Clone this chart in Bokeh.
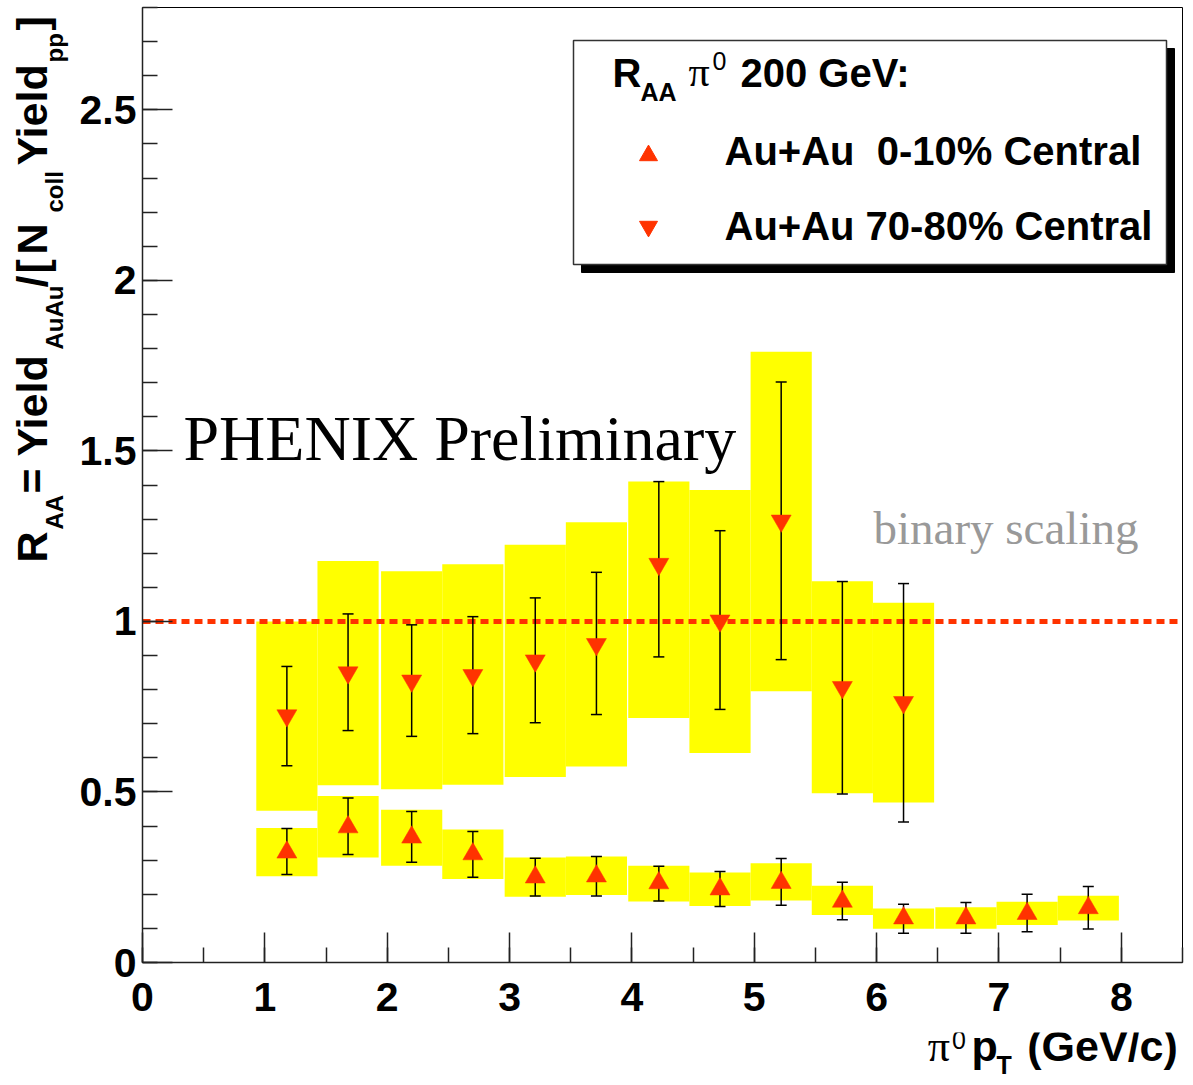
import math
from bokeh.plotting import figure
from bokeh.layouts import row, column
from bokeh.models import Label, SingleIntervalTicker
from bokeh.embed import file_html
from bokeh.resources import INLINE

# ---------------- data ----------------
X_MIN, X_MAX = 0.0, 8.5
Y_MIN, Y_MAX = 0.0, 2.8

# Au+Au 0-10% central (up triangles)
pt_central = [1.18, 1.68, 2.20, 2.70, 3.21, 3.71, 4.22, 4.72, 5.22, 5.72, 6.22, 6.73, 7.23, 7.73]
raa_central = [0.323, 0.397, 0.367, 0.318, 0.250, 0.253, 0.233, 0.215, 0.234, 0.179, 0.130, 0.130, 0.143, 0.160]
err_hi_central = [0.393, 0.482, 0.443, 0.384, 0.306, 0.311, 0.282, 0.267, 0.305, 0.235, 0.171, 0.176, 0.200, 0.223]
err_lo_central = [0.258, 0.317, 0.294, 0.250, 0.195, 0.195, 0.180, 0.164, 0.168, 0.125, 0.086, 0.086, 0.090, 0.098]
sys_hi_central = [0.394, 0.488, 0.448, 0.390, 0.308, 0.311, 0.284, 0.264, 0.291, 0.225, 0.158, 0.162, 0.178, 0.196]
sys_lo_central = [0.253, 0.308, 0.284, 0.245, 0.193, 0.198, 0.179, 0.166, 0.182, 0.139, 0.099, 0.099, 0.110, 0.123]

# Au+Au 70-80% peripheral (down triangles)
pt_periph = [1.18, 1.68, 2.20, 2.70, 3.21, 3.71, 4.22, 4.72, 5.22, 5.72, 6.22]
raa_periph = [0.724, 0.850, 0.826, 0.842, 0.885, 0.933, 1.168, 1.002, 1.295, 0.807, 0.763]
err_hi_periph = [0.868, 1.022, 0.990, 1.014, 1.069, 1.144, 1.410, 1.266, 1.702, 1.117, 1.111]
err_lo_periph = [0.577, 0.680, 0.663, 0.671, 0.703, 0.727, 0.896, 0.742, 0.888, 0.494, 0.412]
sys_hi_periph = [1.000, 1.177, 1.147, 1.168, 1.225, 1.291, 1.410, 1.385, 1.791, 1.118, 1.055]
sys_lo_periph = [0.445, 0.520, 0.508, 0.521, 0.544, 0.575, 0.717, 0.614, 0.795, 0.496, 0.469]

bin_half_width = 0.25
binary_scaling = 1.0

ytick_values = [0, 0.5, 1, 1.5, 2, 2.5]
ytick_labels = ["0", "0.5", "1", "1.5", "2", "2.5"]

legend_title = "200 GeV:"
legend_central = "Au+Au\u00a0\u00a00-10% Central"
legend_periph = "Au+Au 70-80% Central"

# ---------------- layout (pixels of the 1193x1085 page) ----------------
PAGE_W, PAGE_H = 1193, 1085
LEFT_W = 74                      # strip holding the y-axis title
FRAME_L, FRAME_T, FRAME_W, FRAME_H = 142, 7, 1040, 955
MAIN_H = 1032                    # main figure height; below it the x-axis title strip
BASE_SHIFT = 0.42                # label anchor correction (fraction of font size)

def dx(px):
    return X_MIN + (px - FRAME_L) / FRAME_W * (X_MAX - X_MIN)

def dy(py):
    return Y_MAX - (py - FRAME_T) / FRAME_H * (Y_MAX - Y_MIN)

def ident(v):
    return v

RED = "#ff3300"
YELLOW = "#ffff00"
SANS = "Liberation Sans"
SERIF = "Liberation Serif"

p = figure(frame_width=FRAME_W, frame_height=FRAME_H,
           x_range=(X_MIN, X_MAX), y_range=(Y_MIN, Y_MAX),
           output_backend="svg", toolbar_location=None,
           min_border_left=FRAME_L - LEFT_W, min_border_right=PAGE_W - FRAME_L - FRAME_W,
           min_border_top=FRAME_T, min_border_bottom=MAIN_H - FRAME_T - FRAME_H)
p.title.visible = False
p.xgrid.visible = False
p.ygrid.visible = False
p.background_fill_color = "white"
p.border_fill_color = "white"
p.outline_line_color = "black"
p.outline_line_width = 1
p.outline_line_alpha = 1.0

p.xaxis.ticker = SingleIntervalTicker(interval=1, num_minor_ticks=2)
p.yaxis.ticker = SingleIntervalTicker(interval=0.5, num_minor_ticks=5)
p.yaxis.major_label_overrides = {v: s for v, s in zip(ytick_values, ytick_labels)}

for ax in (p.xaxis[0], p.yaxis[0]):
    ax.major_tick_in = 30
    ax.major_tick_out = 0
    ax.minor_tick_in = 15
    ax.minor_tick_out = 0
    ax.major_tick_line_color = "#222222"
    ax.minor_tick_line_color = "#222222"
    ax.major_tick_line_width = 1.5
    ax.minor_tick_line_width = 1.5
    ax.axis_line_color = "#222222"
    ax.axis_line_width = 1.5
    ax.major_label_text_font = SANS
    ax.major_label_text_font_style = "bold"
    ax.major_label_text_font_size = "41px"
    ax.major_label_text_color = "black"
p.xaxis.major_label_standoff = 20
p.yaxis.major_label_standoff = 6

# systematic boxes
p.quad(left=[x - bin_half_width for x in pt_periph], right=[x + bin_half_width for x in pt_periph],
       bottom=sys_lo_periph, top=sys_hi_periph, fill_color=YELLOW, line_color=None)
p.quad(left=[x - bin_half_width for x in pt_central], right=[x + bin_half_width for x in pt_central],
       bottom=sys_lo_central, top=sys_hi_central, fill_color=YELLOW, line_color=None)

# binary scaling line
p.line(x=[X_MIN, X_MAX], y=[binary_scaling, binary_scaling], line_color=RED,
       line_width=5, line_dash="8 5")

# statistical error bars
for xs, lo, hi in ((pt_periph, err_lo_periph, err_hi_periph), (pt_central, err_lo_central, err_hi_central)):
    p.segment(x0=xs, y0=lo, x1=xs, y1=hi, line_color="black", line_width=1.5)
    p.scatter(x=xs, y=lo, marker="dash", size=11, line_color="black", line_width=1.5)
    p.scatter(x=xs, y=hi, marker="dash", size=11, line_color="black", line_width=1.5)

# markers
p.scatter(x=pt_central, y=raa_central, marker="triangle", size=20, fill_color=RED, line_color=RED, line_width=0.5)
p.scatter(x=pt_periph, y=raa_periph, marker="inverted_triangle", size=20, fill_color=RED, line_color=RED, line_width=0.5)

# legend box with shadow
p.quad(left=[dx(581)], right=[dx(1174)], top=[dy(48)], bottom=[dy(272)], fill_color="black", line_color="black")
p.quad(left=[dx(573)], right=[dx(1166)], top=[dy(40)], bottom=[dy(264)], fill_color="white",
       line_color="#333333", line_width=1.5)
p.scatter(x=[dx(648)], y=[dy(155)], marker="triangle", size=18, fill_color=RED, line_color=RED)
p.scatter(x=[dx(648)], y=[dy(226)], marker="inverted_triangle", size=18, fill_color=RED, line_color=RED)


def add_text(fig, text, px, py, size, conv=(ident, ident), font=SANS, style="bold",
             color="black", rotated=False):
    """Place text whose baseline starts at page pixel (px, py)."""
    if rotated:
        px = px - BASE_SHIFT * size
    else:
        py = py - BASE_SHIFT * size
    lab = Label(x=conv[0](px), y=conv[1](py), text=text, text_font=font, text_font_style=style,
                text_font_size=f"{size}px", text_color=color,
                angle=(math.pi / 2 if rotated else 0.0),
                text_align="left", text_baseline="alphabetic")
    fig.add_layout(lab)
    return lab

MAIN = (dx, dy)

# legend texts
add_text(p, "R", 612, 89, 40, MAIN)
add_text(p, "AA", 640, 102, 25, MAIN)
add_text(p, "\u03c0", 688, 89, 42, MAIN, font=SERIF, style="normal")
add_text(p, "0", 712, 71, 25, MAIN, style="normal")
add_text(p, legend_title, 740, 89, 40, MAIN)
add_text(p, legend_central, 724, 167, 40, MAIN)
add_text(p, legend_periph, 724, 242, 40, MAIN)

# annotations
add_text(p, "PHENIX Preliminary", 183, 465, 64, MAIN, font=SERIF, style="normal")
add_text(p, "binary scaling", 873, 547, 47, MAIN, font=SERIF, style="normal", color="#999999")


def text_strip(width, height, x0, y0):
    """A bare figure whose data units are the page pixels it covers."""
    f = figure(width=width, height=height, x_range=(x0, x0 + width), y_range=(y0 + height, y0),
               x_axis_location=None, y_axis_location=None, output_backend="svg",
               toolbar_location=None, min_border=0)
    f.title.visible = False
    f.grid.visible = False
    f.xgrid.visible = False
    f.ygrid.visible = False
    f.outline_line_color = None
    f.background_fill_color = "white"
    f.border_fill_color = "white"
    return f

# x-axis title strip
xs_fig = text_strip(PAGE_W - LEFT_W, PAGE_H - MAIN_H, LEFT_W, MAIN_H)
add_text(xs_fig, "\u03c0", 919, 1064, 44, font=SERIF, style="normal")
add_text(xs_fig, "0", 945, 1050, 25, style="normal")
add_text(xs_fig, "p", 966, 1064, 43)
add_text(xs_fig, "T", 993, 1075, 25)
add_text(xs_fig, "(GeV/c)", 1026, 1064, 43)

# y-axis title strip (rotated pieces: text, bottom pixel, subscript?)
ys_fig = text_strip(LEFT_W, PAGE_H, 0, 0)
ylabel_pieces = [("R", 562, False), ("AA", 529, True), ("=", 493, False), ("Yield", 456, False),
                 ("AuAu", 349, True), ("/", 287, False), ("[", 273, False), ("N", 254, False),
                 ("coll", 212, True), ("Yield", 165, False), ("pp", 62, True), ("]", 30, False)]
for txt, py, sub in ylabel_pieces:
    add_text(ys_fig, txt, 64 if sub else 50, py, 24 if sub else 43, rotated=True)

layout = row(ys_fig, column(p, xs_fig, spacing=0), spacing=0)
open("out.html", "w").write(file_html(layout, INLINE))
